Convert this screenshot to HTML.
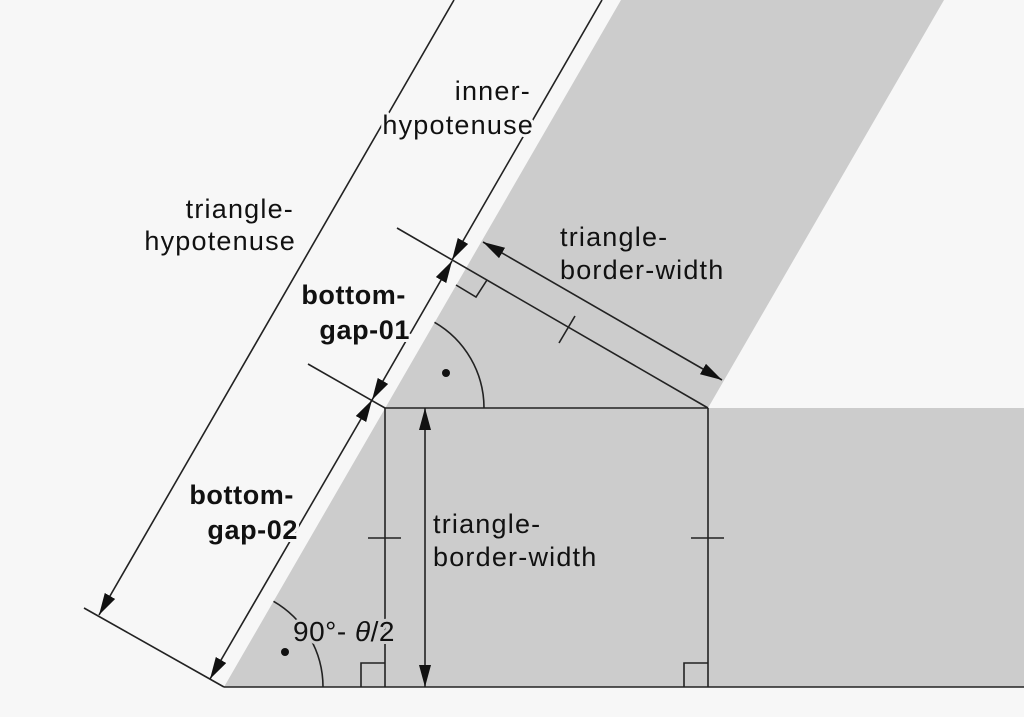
<!DOCTYPE html>
<html><head><meta charset="utf-8"><style>html,body{margin:0;padding:0;background:#f7f7f7}svg{display:block}</style></head>
<body>
<svg width="1024" height="717" viewBox="0 0 1024 717" xmlns="http://www.w3.org/2000/svg">
<defs>
<marker id="a" viewBox="0 0 22 12" refX="22" refY="6" markerWidth="22" markerHeight="12" markerUnits="userSpaceOnUse" orient="auto-start-reverse"><path d="M0,0 L22,6 L0,12 z" fill="#111"/></marker>
</defs>
<rect width="1024" height="717" fill="#f7f7f7"/>
<polygon points="224,687 621,0 944,0 708,408 1024,408 1024,687" fill="#cccccc"/>
<g stroke="#222" stroke-width="1.6" fill="none">
<line x1="224" y1="687" x2="1024" y2="687"/>
<line x1="385" y1="408" x2="708" y2="408"/>
<line x1="385" y1="408" x2="385" y2="687"/>
<line x1="708" y1="408" x2="708" y2="687"/>
<line x1="397" y1="228" x2="708" y2="408"/>
<line x1="84" y1="608" x2="224" y2="687"/>
<line x1="308" y1="364" x2="385" y2="408"/>
<line x1="454" y1="0" x2="99" y2="615" marker-end="url(#a)"/>
<line x1="210" y1="679" x2="372" y2="400" marker-start="url(#a)" marker-end="url(#a)"/>
<line x1="372" y1="400" x2="452" y2="261" marker-start="url(#a)" marker-end="url(#a)"/>
<line x1="602" y1="0" x2="452" y2="260" marker-end="url(#a)"/>
<line x1="483" y1="242" x2="722" y2="380" marker-start="url(#a)" marker-end="url(#a)"/>
<line x1="425" y1="408" x2="425" y2="687" marker-start="url(#a)" marker-end="url(#a)"/>
<line x1="559" y1="343" x2="575" y2="316"/>
<line x1="368" y1="538" x2="401" y2="538"/>
<line x1="691" y1="538" x2="724" y2="538"/>
<polyline points="361,687 361,663 385,663"/>
<polyline points="684,687 684,663 708,663"/>
<polyline points="456,285 476,297 487,280"/>
<path d="M484,408 A99,99 0 0 0 434.5,322.3"/>
<path d="M323,687 A99,99 0 0 0 273.5,601.3"/>
</g>
<circle cx="446" cy="373" r="4" fill="#111"/>
<circle cx="285" cy="652" r="4" fill="#111"/>
<g font-family="'Liberation Sans', sans-serif" font-size="27" letter-spacing="1.2" fill="#111" stroke="#f7f7f7" stroke-width="6" paint-order="stroke" stroke-linejoin="round">
<text x="531" y="100" text-anchor="end">inner-</text>
<text x="534" y="134" text-anchor="end">hypotenuse</text>
<text x="294" y="218" text-anchor="end">triangle-</text>
<text x="296" y="250" text-anchor="end">hypotenuse</text>
<text x="406" y="304" text-anchor="end" font-weight="bold" letter-spacing="0.6">bottom-</text>
<text x="410" y="339" text-anchor="end" font-weight="bold" letter-spacing="0.6">gap-01</text>
<text x="294" y="504" text-anchor="end" font-weight="bold" letter-spacing="0.6">bottom-</text>
<text x="298" y="539" text-anchor="end" font-weight="bold" letter-spacing="0.6">gap-02</text>
</g>
<g font-family="'Liberation Sans', sans-serif" font-size="27" letter-spacing="1.2" fill="#111" stroke="#cccccc" stroke-width="6" paint-order="stroke" stroke-linejoin="round">
<text x="560" y="246">triangle-</text>
<text x="560" y="279">border-width</text>
<text x="433" y="533">triangle-</text>
<text x="433" y="566">border-width</text>
<text x="293" y="641" font-size="28" letter-spacing="0.5">90°- <tspan font-style="italic">θ</tspan>/2</text>
</g>
</svg>
</body></html>
